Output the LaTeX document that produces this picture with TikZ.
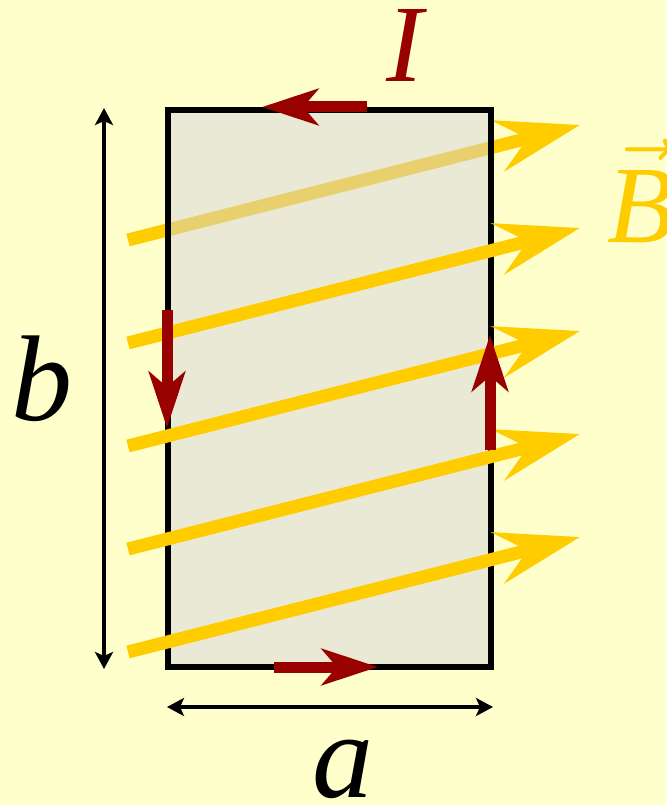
\RequirePackage{fix-cm}
\documentclass[tikz,border=0pt]{standalone}
\usepackage{fontspec}
\setmainfont{Liberation Serif}
\usepackage{xcolor}
\usepackage{tikz}
\usetikzlibrary{arrows.meta, positioning}
\definecolor{bgyellow}{RGB}{255,255,204}
\definecolor{fieldyellow}{RGB}{255,204,0}
\definecolor{loopfill}{RGB}{213,213,223}
\definecolor{currentred}{RGB}{153,0,0}
\tikzset{
  loopbox/.style={draw, line width=5.5pt, fill=loopfill, fill opacity=0.5, inner sep=0pt},
  fieldarrow/.style={-{Stealth[length=84pt,width=52pt,inset=30pt]}, line width=13pt, color=fieldyellow},
  currentarrow/.style={-{Stealth[length=56pt,width=36pt,inset=15pt]}, line width=11pt, color=currentred},
  dimarrow/.style={{Stealth[length=17pt,width=18pt,inset=4pt]}-{Stealth[length=17pt,width=18pt,inset=4pt]}, line width=4pt},
  biglabel/.style={anchor=base, inner sep=0pt, font=\fontsize{122}{122}\selectfont\itshape}
}

\begin{document}
\begin{tikzpicture}[x=1pt, y=-1pt]
  \fill[bgyellow] (0,0) rectangle (666,805);
  \useasboundingbox (0,0) rectangle (666,805);
  % field lines
  \foreach \i in {0,...,4} {
    \coordinate (f\i s) at (128,{240+103*\i});
    \coordinate (f\i e) at (580,{125+103*\i});
  }
  \draw[fieldarrow] (f0s) -- (f0e);
  \node[loopbox, minimum width=323pt, minimum height=557pt] (loop) at (329.5,388.5) {};
  \foreach \i in {1,...,4}
    \draw[fieldarrow] (f\i s) -- (f\i e);
  % current
  \coordinate (it0) at (367,107);  \coordinate (it1) at (262,107);
  \coordinate (il0) at (167,310);  \coordinate (il1) at (167,428);
  \coordinate (ir0) at (490,450);  \coordinate (ir1) at (490,335);
  \coordinate (ib0) at (274,667);  \coordinate (ib1) at (378,667);
  \draw[currentarrow] (it0) -- (it1);
  \draw[currentarrow] (il0) -- (il1);
  \draw[currentarrow] (ir0) -- (ir1);
  \draw[currentarrow] (ib0) -- (ib1);
  % dimensions
  \coordinate (db0) at (104,108);  \coordinate (db1) at (104,669);
  \coordinate (da0) at (167,707);  \coordinate (da1) at (493,707);
  \draw[dimarrow] (db0) -- (db1);
  \draw[dimarrow] (da0) -- (da1);
  \node[biglabel] (blabel) at (42,420) {b};
  \node[biglabel] (alabel) at (343,797) {a};
  \node[biglabel, font=\fontsize{110}{110}\selectfont\itshape, text=currentred] (Ilabel) at (405,82) {I};
  \node[biglabel, font=\fontsize{110}{110}\selectfont, text=fieldyellow] (Blabel) at (641,242) {$\vec{\mbox{\itshape B}}$};
\end{tikzpicture}
\end{document}
